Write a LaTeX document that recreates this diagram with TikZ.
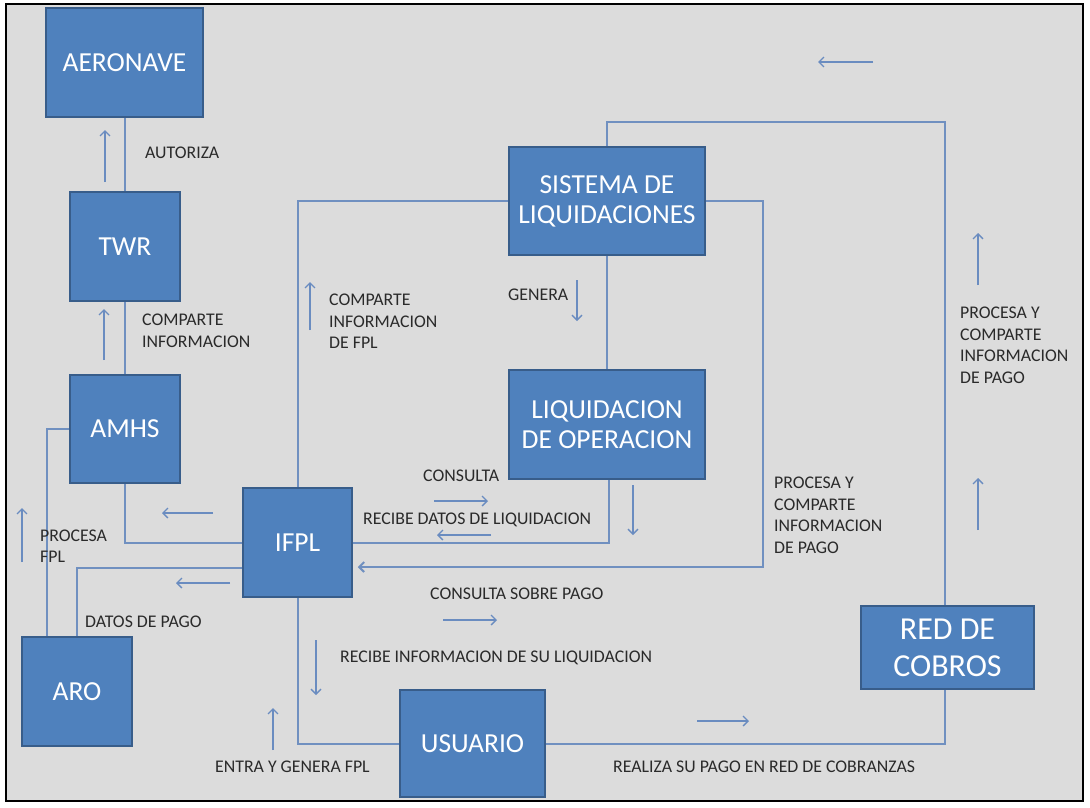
\documentclass[tikz,border=0pt]{standalone}
\usepackage{fontspec}
\setmainfont{Carlito}
\usetikzlibrary{arrows.meta,calc}
\definecolor{boxfill}{HTML}{4F81BD}
\definecolor{boxline}{HTML}{385D8A}
\definecolor{connc}{HTML}{7090C0}
\definecolor{arrc}{HTML}{6A8CC0}
\definecolor{bgc}{HTML}{DCDCDC}
\definecolor{labc}{HTML}{2A2A2A}
\pgfdeclarelayer{bg}
\pgfdeclarelayer{lines}
\pgfsetlayers{bg,lines,main}
\begin{document}
\begin{tikzpicture}[x=1pt,y=-1pt,
  box/.style={draw=boxline, fill=boxfill, line width=1.5pt, text=white, inner sep=0pt, align=center, font=\fontsize{27.5}{30}\selectfont},
  conn/.style={draw=connc, line width=2pt},
  barb/.style={-{Straight Barb[length=5pt,width=10pt]}},
  flow/.style={draw=arrc, line width=1.3pt, barb},
  lab/.style={text=labc, font=\fontsize{17.8}{21.5}\selectfont, anchor=west, align=left, inner sep=0pt},
]
\useasboundingbox (0,0) rectangle (1090,807);
\begin{pgfonlayer}{bg}
  \fill[white] (0,0) rectangle (1090,807);
  \draw[black, line width=2pt, fill=bgc] (6,4) rectangle (1083,801);
\end{pgfonlayer}

% boxes
\node[box, minimum width=157pt, minimum height=109pt] (aero) at (124.5,62.5) {AERONAVE};
\node[box, minimum width=110pt, minimum height=109pt] (twr) at (125,246.5) {TWR};
\node[box, minimum width=110pt, minimum height=108pt] (amhs) at (125,429) {AMHS};
\node[box, minimum width=110pt, minimum height=109pt] (aro) at (77,691.5) {ARO};
\node[box, minimum width=109pt, minimum height=109pt] (ifpl) at (297.5,542.5) {IFPL};
\node[box, minimum width=196pt, minimum height=108pt] (sis) at (607,201) {SISTEMA DE\\LIQUIDACIONES};
\node[box, minimum width=196pt, minimum height=109pt] (liq) at (607,424.5) {LIQUIDACION\\DE OPERACION};
\node[box, minimum width=145pt, minimum height=107pt] (usu) at (472.5,743.5) {USUARIO};
\node[box, minimum width=173pt, minimum height=83pt, font=\fontsize{32}{37}\selectfont] (red) at (947.5,647.5) {RED DE\\COBROS};

\coordinate (aroL) at ($(aro.north west)+(26,0)$);
\coordinate (aroR) at ($(aro.north west)+(56,0)$);
\coordinate (tr) at (945,122);
\coordinate (rc) at (763,567);

% connectors
\begin{pgfonlayer}{lines}
  \draw[conn] (twr.north) -- (twr.north |- aero.south);
  \draw[conn] (twr.south) -- (amhs.north);
  \draw[conn] (amhs.west) -| (aroL);
  \draw[conn] (amhs.south) |- (ifpl.west);
  \draw[conn] ($(ifpl.west)+(0,25.5)$) -| (aroR);
  \draw[conn] (ifpl.north) |- (sis.west);
  \draw[conn] (usu.east) -| (tr) -| (sis.north);
  \draw[conn, barb, shorten >=5pt] (sis.east) -| (rc) -- (ifpl.east |- rc);
  \draw[conn] (sis.south) -- (liq.north);
  \draw[conn] ($(liq.south)+(2,0)$) |- (ifpl.east);
  \draw[conn] (ifpl.south) |- (usu.west);
\end{pgfonlayer}

% flow arrows
\draw[flow] (105,182) -- (105,130);
\draw[flow] (104,360) -- (104,309);
\draw[flow] (213,513) -- (162,513);
\draw[flow] (22,562) -- (22,508);
\draw[flow] (230,583) -- (176,583);
\draw[flow] (310,330) -- (310,282);
\draw[flow] (577,280) -- (577,321);
\draw[flow] (434,501) -- (488,501);
\draw[flow] (491,535) -- (437,535);
\draw[flow] (633,485) -- (633,535);
\draw[flow] (443,620) -- (497,620);
\draw[flow] (316,640) -- (316,695);
\draw[flow] (273,750) -- (273,708);
\draw[flow] (697,721) -- (749,721);
\draw[flow] (873,62) -- (818,62);
\draw[flow] (978,285) -- (978,233);
\draw[flow] (978,530) -- (978,478);

% labels
\node[lab] (l1) at (145,153) {AUTORIZA};
\node[lab] (l2) at (142,331) {COMPARTE\\INFORMACION};
\node[lab] (l3) at (40,546) {PROCESA\\FPL};
\node[lab] (l4) at (85,622) {DATOS DE PAGO};
\node[lab] (l5) at (329,321.5) {COMPARTE\\INFORMACION\\DE FPL};
\node[lab] (l6) at (508,295) {GENERA};
\node[lab] (l7) at (423,476) {CONSULTA};
\node[lab] (l8) at (363,520) {RECIBE DATOS DE LIQUIDACION};
\node[lab] (l9) at (430,594) {CONSULTA SOBRE PAGO};
\node[lab] (l10) at (774,515.5) {PROCESA Y\\COMPARTE\\INFORMACION\\DE PAGO};
\node[lab] (l11) at (960,345.5) {PROCESA Y\\COMPARTE\\INFORMACION\\DE PAGO};
\node[lab] (l12) at (340,658) {RECIBE INFORMACION DE SU LIQUIDACION};
\node[lab] (l13) at (215,767) {ENTRA Y GENERA FPL};
\node[lab] (l14) at (613,767) {REALIZA SU PAGO EN RED DE COBRANZAS};
\end{tikzpicture}
\end{document}
